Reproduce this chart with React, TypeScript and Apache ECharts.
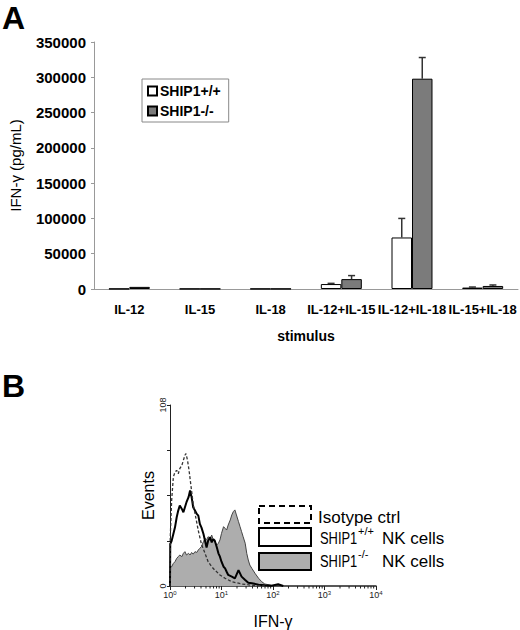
import React, { useEffect, useRef } from "react";
import * as echarts from "echarts";

const FONT = "'Liberation Sans', Arial, Helvetica, sans-serif";

// ---------- Panel A data ----------
const categories = ["IL-12", "IL-15", "IL-18", "IL-12+IL-15", "IL-12+IL-18", "IL-15+IL-18"];
const wtValues = [300, 300, 300, 7000, 73000, 2000];
const wtErrors = [0, 0, 0, 1000, 27000, 800];
const koValues = [3000, 300, 300, 14000, 298000, 4300];
const koErrors = [0, 0, 0, 5000, 30000, 1400];
const barTicks = { min: 0, max: 350000, interval: 50000 };

// ---------- Panel B data (x = log10 IFN-γ, y = events) ----------
const isotypeCurve = [
  [0, 0], [0.005, 29], [0.032, 51], [0.065, 65], [0.097, 68], [0.13, 69], [0.16, 67], [0.19, 70],
  [0.23, 72], [0.26, 75], [0.29, 78], [0.31, 79], [0.34, 75], [0.37, 69], [0.41, 59], [0.45, 49],
  [0.5, 41], [0.55, 33], [0.61, 25], [0.68, 19.5], [0.74, 14.5], [0.81, 11.5], [0.87, 9.5],
  [0.97, 6.6], [1.07, 4.6], [1.2, 2.6], [1.39, 1.2], [1.59, 0.4], [1.84, 0],
];
const wtCurve = [
  [0, 0], [0.005, 25], [0.032, 27], [0.065, 31], [0.097, 35], [0.13, 41], [0.16, 45], [0.19, 48],
  [0.23, 46], [0.26, 44], [0.29, 47], [0.32, 50], [0.36, 53], [0.39, 57], [0.42, 53], [0.45, 47],
  [0.485, 45], [0.52, 43], [0.55, 42], [0.58, 37], [0.61, 35], [0.65, 31], [0.68, 27], [0.71, 23],
  [0.74, 27], [0.78, 29], [0.81, 26], [0.84, 28], [0.87, 27], [0.91, 23], [0.94, 19.5], [0.97, 17.5],
  [1.0, 14.5], [1.04, 11.5], [1.07, 10.5], [1.1, 8.5], [1.13, 6.6], [1.2, 5.6], [1.26, 4.6],
  [1.33, 9.5], [1.39, 5.6], [1.46, 3.6], [1.52, 2], [1.59, 1.6], [1.72, 0.8], [1.84, 0.4],
  [1.97, 0.2], [2.1, 1], [2.2, 0],
];
const koCurve = [
  [0, 0], [0.01, 11.5], [0.032, 11.5], [0.065, 13.5], [0.097, 14.5], [0.13, 16.5], [0.16, 17.5],
  [0.19, 18.5], [0.23, 17.5], [0.26, 19.5], [0.29, 20.5], [0.32, 18.5], [0.36, 19.5], [0.39, 18.5],
  [0.42, 20], [0.45, 19], [0.485, 20.5], [0.52, 20], [0.55, 21.5], [0.58, 22.5], [0.61, 23.5],
  [0.65, 26.5], [0.68, 28.4], [0.71, 27.5], [0.74, 29.4], [0.78, 28.4], [0.81, 30.4], [0.84, 27.5],
  [0.87, 26.5], [0.91, 24.5], [0.94, 25.5], [0.97, 27.5], [1.0, 31.4], [1.04, 35.4], [1.07, 34.4],
  [1.1, 33.4], [1.13, 36.4], [1.17, 39.4], [1.2, 42.4], [1.23, 44.4], [1.26, 45.4], [1.29, 42.4],
  [1.33, 38.4], [1.36, 35.4], [1.39, 32.4], [1.42, 29.4], [1.46, 25.5], [1.49, 19.5], [1.52, 15.5],
  [1.55, 12.5], [1.59, 10.5], [1.65, 7.6], [1.72, 4.6], [1.78, 2.6], [1.84, 1.2], [1.97, 0.4], [2.1, 0],
];
const histYTicks = { min: 0, max: 108, interval: 27 };
const decades = [0, 1, 2, 3, 4];
const minorMultipliers = [2, 3, 4, 5, 6, 7, 8, 9];

const BAR_FRAC = 0.29;

function errorBarSeries(values: number[], errors: number[], sign: number) {
  return {
    type: "custom",
    xAxisIndex: 0,
    yAxisIndex: 0,
    silent: true,
    z: 3,
    data: categories.map((_, i) => [i, values[i], errors[i]]),
    renderItem: (_params: any, api: any) => {
      const i = api.value(0);
      const v = api.value(1);
      const e = api.value(2);
      if (!e) return null;
      const band = api.size([1, 0])[0];
      const bw = band * BAR_FRAC;
      const cx = api.coord([i, 0])[0] + (sign * bw) / 2;
      const y0 = api.coord([i, v])[1];
      const y1 = api.coord([i, v + e])[1];
      const st = { stroke: "#333", lineWidth: 1.5 };
      return {
        type: "group",
        children: [
          { type: "line", shape: { x1: cx, y1: y0, x2: cx, y2: y1 }, style: st },
          { type: "line", shape: { x1: cx - 3.5, y1: y1, x2: cx + 3.5, y2: y1 }, style: st },
        ],
      };
    },
  };
}

const minorTickData: number[][] = [];
decades.slice(0, -1).forEach((d) => {
  minorMultipliers.forEach((m) => minorTickData.push([d + Math.log10(m), 0]));
});

function buildOption() {
  const legendRows = [
    { y: 506, h: 17, fill: "#fff", dash: [6, 4] as any, label: "Isotype ctrl", textY: 517 },
    { y: 528, h: 18, fill: "#fff", dash: null, label: "SHIP1", sup: "+/+", textY: 538 },
    { y: 553, h: 17, fill: "#adadad", dash: null, label: "SHIP1", sup: "-/-", textY: 561 },
  ];
  const graphic: any[] = [
    {
      type: "text", x: 2, y: 2,
      style: { text: "A", fontSize: 32, fontWeight: "bold", fontFamily: FONT, fill: "#000", textVerticalAlign: "top" },
    },
    {
      type: "text", x: 2, y: 370,
      style: { text: "B", fontSize: 32, fontWeight: "bold", fontFamily: FONT, fill: "#000", textVerticalAlign: "top" },
    },
  ];
  legendRows.forEach((r) => {
    graphic.push({
      type: "rect",
      shape: { x: 259, y: r.y, width: 52, height: r.h },
      style: { fill: r.fill, stroke: "#000", lineWidth: 2, lineDash: r.dash || undefined },
    });
    if (!r.sup) {
      graphic.push({
        type: "text", x: 318, y: r.textY,
        style: { text: r.label, fontSize: 17, fontFamily: FONT, fill: "#000", textVerticalAlign: "middle" },
      });
    } else {
      graphic.push({
        type: "text", x: 320, y: r.textY, scaleX: 0.76,
        style: { text: r.label, fontSize: 17, fontFamily: FONT, fill: "#000", textVerticalAlign: "middle" },
      });
      graphic.push({
        type: "text", x: 358, y: r.textY - 7,
        style: { text: r.sup, fontSize: 11, fontFamily: FONT, fill: "#000", textVerticalAlign: "middle" },
      });
      graphic.push({
        type: "text", x: 382, y: r.textY,
        style: { text: "NK cells", fontSize: 17, fontFamily: FONT, fill: "#000", textVerticalAlign: "middle" },
      });
    }
  });

  return {
    animation: false,
    textStyle: { fontFamily: FONT },
    legend: {
      data: ["SHIP1+/+", "SHIP1-/-"],
      orient: "vertical",
      left: 142,
      top: 79,
      padding: [5, 8, 4, 5],
      itemGap: 6,
      itemWidth: 9,
      itemHeight: 9,
      borderColor: "#888",
      borderWidth: 1,
      icon: "rect",
      selectedMode: false,
      textStyle: { fontSize: 14, fontWeight: "bold", color: "#000", lineHeight: 14, padding: [0, 0, 0, -2] },
    },
    grid: [
      { left: 81, right: 2, top: 42, height: 247 },
      { left: 170, top: 405, width: 206, height: 182 },
    ],
    xAxis: [
      {
        type: "category",
        gridIndex: 0,
        data: categories,
        axisLine: { lineStyle: { color: "#999" } },
        axisTick: { length: 5, lineStyle: { color: "#999" } },
        axisLabel: { color: "#000", fontWeight: "bold", fontSize: 13, margin: 14, interval: 0 },
        name: "stimulus",
        nameLocation: "middle",
        nameGap: 40,
        nameTextStyle: { fontWeight: "bold", fontSize: 14, color: "#000" },
      },
      {
        type: "value",
        gridIndex: 1,
        min: decades[0],
        max: decades[decades.length - 1],
        interval: 1,
        axisLine: { onZero: false, lineStyle: { color: "#222", width: 1.5 } },
        axisTick: { length: 4, lineStyle: { color: "#222" } },
        splitLine: { show: false },
        axisLabel: {
          margin: 4,
          formatter: (v: number) => `{b|10}{s|${v}}`,
          rich: {
            b: { fontSize: 9, color: "#222", fontFamily: FONT },
            s: { fontSize: 6, color: "#222", fontFamily: FONT, verticalAlign: "top", padding: [0, 0, 4, 0] },
          },
        },
        name: "IFN-γ",
        nameLocation: "middle",
        nameGap: 27,
        nameTextStyle: { fontSize: 16, color: "#000" },
      },
    ],
    yAxis: [
      {
        type: "value",
        gridIndex: 0,
        ...barTicks,
        axisLine: { show: true, lineStyle: { color: "#999" } },
        axisTick: { show: true, length: 3, lineStyle: { color: "#999" } },
        splitLine: { show: false },
        axisLabel: {
          color: "#000",
          fontWeight: "bold",
          fontSize: 15,
          margin: 8,
          formatter: (v: number) => String(v),
        },
        name: "IFN-γ (pg/mL)",
        nameLocation: "middle",
        nameGap: 71,
        nameRotate: 90,
        nameTextStyle: { fontSize: 15, color: "#000" },
      },
      {
        type: "value",
        gridIndex: 1,
        ...histYTicks,
        axisLine: { show: true, lineStyle: { color: "#222" } },
        axisTick: { show: true, length: 3, lineStyle: { color: "#222" } },
        splitLine: { show: false },
        axisLabel: {
          rotate: 90,
          fontSize: 9,
          color: "#222",
          margin: 3,
          formatter: (v: number) => (v === histYTicks.min || v === histYTicks.max ? String(v) : ""),
        },
        name: "Events",
        nameLocation: "middle",
        nameGap: 14,
        nameRotate: 90,
        nameTextStyle: { fontSize: 16, color: "#000" },
      },
    ],
    graphic,
    series: [
      {
        name: "SHIP1+/+",
        type: "bar",
        xAxisIndex: 0,
        yAxisIndex: 0,
        data: wtValues,
        barWidth: `${BAR_FRAC * 100}%`,
        barGap: "0%",
        itemStyle: { color: "#ffffff", borderColor: "#000", borderWidth: 1 },
      },
      {
        name: "SHIP1-/-",
        type: "bar",
        xAxisIndex: 0,
        yAxisIndex: 0,
        data: koValues,
        barWidth: `${BAR_FRAC * 100}%`,
        barGap: "0%",
        itemStyle: { color: "#7b7b7b", borderColor: "#000", borderWidth: 1 },
      },
      errorBarSeries(wtValues, wtErrors, -1),
      errorBarSeries(koValues, koErrors, 1),
      {
        type: "line",
        xAxisIndex: 1,
        yAxisIndex: 1,
        data: koCurve,
        showSymbol: false,
        symbol: "none",
        lineStyle: { color: "#444", width: 1 },
        areaStyle: { color: "#adadad", opacity: 1 },
        z: 2,
      },
      {
        type: "line",
        xAxisIndex: 1,
        yAxisIndex: 1,
        data: wtCurve,
        showSymbol: false,
        symbol: "none",
        lineStyle: { color: "#000", width: 2 },
        z: 3,
      },
      {
        type: "line",
        xAxisIndex: 1,
        yAxisIndex: 1,
        data: isotypeCurve,
        showSymbol: false,
        symbol: "none",
        lineStyle: { color: "#333", width: 1.3, type: [3, 2] },
        z: 4,
      },
      {
        type: "custom",
        xAxisIndex: 1,
        yAxisIndex: 1,
        silent: true,
        data: minorTickData,
        renderItem: (_p: any, api: any) => {
          const p = api.coord([api.value(0), 0]);
          return {
            type: "line",
            shape: { x1: p[0], y1: p[1], x2: p[0], y2: p[1] + 2.5 },
            style: { stroke: "#222", lineWidth: 1 },
          };
        },
      },
    ],
  };
}

export default function App() {
  const ref = useRef<HTMLDivElement>(null);
  useEffect(() => {
    if (!ref.current) return;
    const chart = echarts.init(ref.current, null, { renderer: "svg" });
    chart.setOption(buildOption() as any);
    return () => chart.dispose();
  }, []);
  return (
    <div
      ref={ref}
      style={{ position: "absolute", left: 0, top: 0, width: 520, height: 630, background: "#fff" }}
    />
  );
}
